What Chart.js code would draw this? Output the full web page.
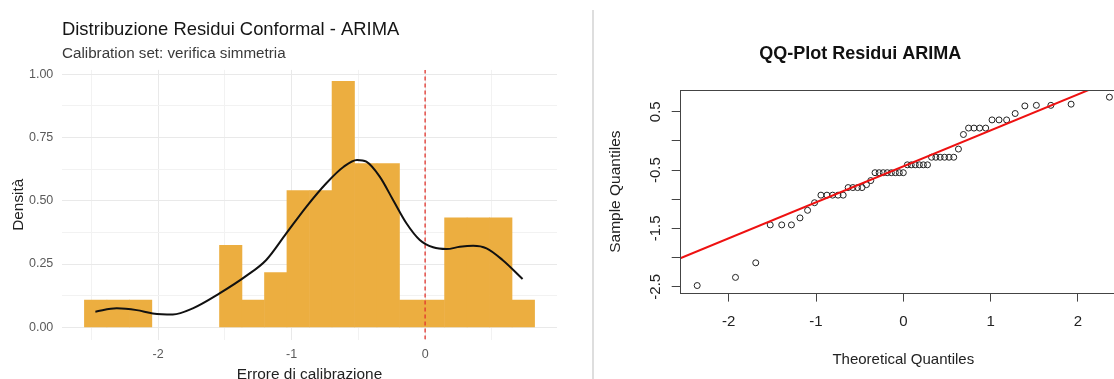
<!DOCTYPE html>
<html lang="it">
<head>
<meta charset="utf-8">
<title>Residui Conformal - ARIMA</title>
<script src="https://cdn.jsdelivr.net/npm/chart.js@4.4.1/dist/chart.umd.min.js"></script>
<style>
  html, body { margin: 0; padding: 0; background: #fff; overflow: hidden; }
  body { width: 1114px; height: 379px; position: relative; }
  .panel { position: absolute; top: 0; height: 382px; }
  #histPanel { left: 0; width: 594px; }
  #qqPanel { left: 594px; width: 618px; }
  #divider { position: absolute; left: 592px; top: 10px; width: 2px; height: 369px; background: #dedede; }
</style>
</head>
<body>
<div class="panel" id="histPanel"><canvas id="histChart"></canvas></div>
<div id="divider"></div>
<div class="panel" id="qqPanel"><canvas id="qqChart"></canvas></div>

<script>
// ===================================
// DATA
// ===================================
// Histogram of the calibration residuals (bin centres, density; null = empty bin)
const binCenters = [
    -2.468, -2.299, -2.131, -1.962, -1.794, -1.625, -1.456, -1.288, -1.119, -0.951,
    -0.782, -0.613, -0.445, -0.276, -0.108, 0.061, 0.230, 0.399, 0.567, 0.736
];
const binDensity = [
    0.108, 0.108, 0.108, null, null, null, 0.324, 0.108, 0.216, 0.540,
    0.540, 0.971, 0.647, 0.647, 0.108, 0.108, 0.432, 0.432, 0.432, 0.108
];

// Kernel density estimate
const kdeX = [
    -2.47, -2.31, -2.16, -2.04, -1.89, -1.74, -1.54, -1.34, -1.19, -1.04,
    -0.89, -0.74, -0.61, -0.51, -0.44, -0.34, -0.24, -0.14, -0.04, 0.06,
    0.16, 0.26, 0.36, 0.46, 0.58, 0.73
];
const kdeY = [
    0.062, 0.075, 0.068, 0.055, 0.051, 0.075, 0.134, 0.203, 0.266, 0.371,
    0.476, 0.569, 0.634, 0.661, 0.654, 0.595, 0.503, 0.411, 0.345, 0.316,
    0.309, 0.318, 0.322, 0.312, 0.266, 0.191
];

// reference line at zero error
const zeroLine = 0;

// QQ plot: theoretical vs sample quantiles (55 residuals)
const theoQuantiles = [
    -2.362, -1.923, -1.691, -1.525, -1.393, -1.282, -1.184, -1.097, -1.017, -0.944,
    -0.875, -0.810, -0.748, -0.689, -0.632, -0.578, -0.524, -0.473, -0.422, -0.373,
    -0.324, -0.277, -0.230, -0.184, -0.137, -0.091, -0.046, 0.000, 0.046, 0.091,
    0.137, 0.184, 0.230, 0.277, 0.324, 0.373, 0.422, 0.473, 0.524, 0.578,
    0.632, 0.689, 0.748, 0.810, 0.875, 0.944, 1.017, 1.097, 1.184, 1.282,
    1.393, 1.525, 1.691, 1.923, 2.362
];
const sampleQuantiles = [
    -2.48, -2.34, -2.09, -1.44, -1.44, -1.44, -1.32, -1.19, -1.06, -0.93,
    -0.93, -0.93, -0.93, -0.93, -0.80, -0.80, -0.80, -0.80, -0.75, -0.68,
    -0.545, -0.545, -0.545, -0.545, -0.545, -0.545, -0.545, -0.545, -0.41, -0.41,
    -0.41, -0.41, -0.41, -0.41, -0.28, -0.28, -0.28, -0.28, -0.28, -0.28,
    -0.14, 0.11, 0.22, 0.22, 0.22, 0.22, 0.36, 0.36, 0.36, 0.47,
    0.60, 0.61, 0.61, 0.63, 0.75
];

// qqline end points
const qqLineX = [-2.6, 2.2];
const qqLineY = [-2.04, 0.92];

// axis limits
const histXMin = -2.72, histXMax = 0.988;
const histYMin = -0.0484, histYMax = 1.0164;
const qqXMin = -2.559, qqXMax = 2.559;
const qqYMin = -2.613, qqYMax = 0.873;

Chart.defaults.font.family = "'Liberation Sans', Arial, sans-serif";

// ===================================
// HISTOGRAM + DENSITY (ggplot look)
// ===================================
const isMajorX = v => Number.isInteger(v);
const isMajorY = v => Math.abs(v * 4 - Math.round(v * 4)) < 1e-6;

const histConfig = {
    type: 'bar',
    data: {
        datasets: [
            {
                type: 'line',
                label: 'Densità',
                data: kdeX.map((x, i) => ({ x: x, y: kdeY[i] })),
                borderColor: '#111111',
                borderWidth: 2,
                pointRadius: 0,
                cubicInterpolationMode: 'monotone',
                fill: false
            },
            {
                type: 'line',
                label: 'Zero',
                data: [{ x: zeroLine, y: histYMin }, { x: zeroLine, y: histYMax }],
                borderColor: '#e2342d',
                borderWidth: 1.3,
                borderDash: [4, 3],
                pointRadius: 0
            },
            {
                type: 'bar',
                label: 'Istogramma',
                data: binCenters.map((x, i) => ({ x: x, y: binDensity[i] })),
                backgroundColor: '#ecae40',
                borderWidth: 0,
                barPercentage: 1,
                categoryPercentage: 1
            }
        ]
    },
    options: {
        responsive: true,
        maintainAspectRatio: false,
        animation: false,
        layout: { padding: { left: 0, right: 37, top: 0, bottom: 0 } },
        plugins: {
            legend: { display: false },
            tooltip: { enabled: false },
            title: {
                display: true,
                text: 'Distribuzione Residui Conformal - ARIMA',
                align: 'start',
                fullSize: false,
                color: '#151515',
                font: { size: 18.4, weight: 'normal' },
                padding: { top: 19, bottom: 3.8 }
            },
            subtitle: {
                display: true,
                text: 'Calibration set: verifica simmetria',
                align: 'start',
                fullSize: false,
                color: '#3a3a3a',
                font: { size: 15.2 },
                padding: { top: 0, bottom: 6.8 }
            }
        },
        scales: {
            x: {
                type: 'linear',
                min: histXMin,
                max: histXMax,
                offset: false,
                grid: {
                    offset: false,
                    drawTicks: false,
                    color: ctx => isMajorX(ctx.tick.value) ? '#e9e9e9' : '#f2f2f2'
                },
                border: { display: false },
                ticks: {
                    stepSize: 0.5,
                    includeBounds: false,
                    autoSkip: false,
                    maxRotation: 0,
                    padding: 7.2,
                    color: '#5a5a5a',
                    font: { size: 12.5 },
                    callback: v => isMajorX(v) ? String(v) : ''
                },
                title: {
                    display: true,
                    text: 'Errore di calibrazione',
                    color: '#222',
                    font: { size: 15.4, lineHeight: 1 },
                    padding: { top: 0, bottom: 0 }
                },
                afterFit: s => { s.height = 42.4; }
            },
            y: {
                min: histYMin,
                max: histYMax,
                grid: {
                    drawTicks: false,
                    color: ctx => isMajorY(ctx.tick.value) ? '#e9e9e9' : '#f2f2f2'
                },
                border: { display: false },
                ticks: {
                    stepSize: 0.125,
                    includeBounds: false,
                    autoSkip: false,
                    padding: 8.7,
                    color: '#5a5a5a',
                    font: { size: 12.5 },
                    callback: v => isMajorY(v) ? v.toFixed(2) : ''
                },
                title: {
                    display: true,
                    text: 'Densità',
                    color: '#222',
                    font: { size: 15.4 },
                    padding: { top: 9.8, bottom: 0 }
                },
                afterFit: s => { s.width = 62; }
            }
        }
    }
};

new Chart(document.getElementById('histChart'), histConfig);

// ===================================
// QQ PLOT (base R look)
// ===================================
// draws the plot box round the chart area, like R's box()
const boxFrame = {
    id: 'boxFrame',
    afterDatasetsDraw(chart, args, opts) {
        const { ctx, chartArea: a } = chart;
        ctx.save();
        ctx.strokeStyle = opts.color || '#444';
        ctx.lineWidth = 1;
        ctx.strokeRect(Math.round(a.left) + 0.5, Math.round(a.top) + 0.5,
            Math.round(a.right - a.left), Math.round(a.bottom - a.top));
        ctx.restore();
    }
};

const qqConfig = {
    type: 'scatter',
    data: {
        datasets: [
            {
                type: 'line',
                label: 'qqline',
                data: qqLineX.map((x, i) => ({ x: x, y: qqLineY[i] })),
                borderColor: '#ee1111',
                borderWidth: 2,
                pointRadius: 0,
                showLine: true
            },
            {
                label: 'Residui',
                data: theoQuantiles.map((x, i) => ({ x: x, y: sampleQuantiles[i] })),
                pointRadius: 3,
                pointStyle: 'circle',
                borderColor: '#222',
                borderWidth: 1,
                backgroundColor: 'rgba(0,0,0,0)'
            }
        ]
    },
    options: {
        responsive: true,
        maintainAspectRatio: false,
        animation: false,
        layout: { padding: { left: 0, right: 85.4, top: 0, bottom: 0 } },
        plugins: {
            legend: { display: false },
            tooltip: { enabled: false },
            boxFrame: { color: '#444' },
            title: {
                display: true,
                text: 'QQ-Plot Residui ARIMA',
                color: '#111',
                font: { size: 18, weight: 'bold' },
                padding: { top: 43.2, bottom: 25.2 }
            }
        },
        scales: {
            x: {
                type: 'linear',
                min: qqXMin,
                max: qqXMax,
                grid: { drawOnChartArea: false, drawTicks: true, tickLength: 8.3, color: '#444' },
                border: { display: false },
                ticks: {
                    stepSize: 1,
                    includeBounds: false,
                    autoSkip: false,
                    maxRotation: 0,
                    padding: 11.7,
                    color: '#222',
                    font: { size: 15 }
                },
                title: {
                    display: true,
                    text: 'Theoretical Quantiles',
                    color: '#222',
                    font: { size: 15 },
                    padding: { top: 0, bottom: 13 }
                },
                afterFit: s => { s.height = 88.7; }
            },
            y: {
                type: 'linear',
                min: qqYMin,
                max: qqYMax,
                grid: { drawOnChartArea: false, drawTicks: true, tickLength: 8.3, color: '#444' },
                border: { display: false },
                ticks: {
                    stepSize: 0.5,
                    includeBounds: false,
                    autoSkip: false,
                    minRotation: 90,
                    maxRotation: 90,
                    crossAlign: 'center',
                    padding: 3,
                    color: '#222',
                    font: { size: 15 },
                    // R drops every other label on this axis
                    callback: v => Math.abs(v % 1) === 0.5 ? v.toFixed(1) : ''
                },
                title: {
                    display: true,
                    text: 'Sample Quantiles',
                    color: '#222',
                    font: { size: 15.5 },
                    padding: { top: 12.4, bottom: 0 }
                },
                afterFit: s => { s.width = 86; }
            }
        }
    },
    plugins: [boxFrame]
};

new Chart(document.getElementById('qqChart'), qqConfig);
</script>
</body>
</html>
